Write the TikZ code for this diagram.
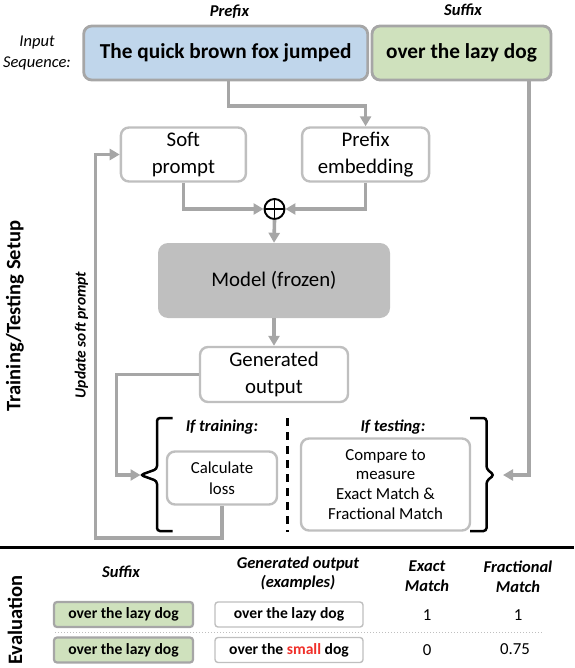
\documentclass[tikz,border=0pt]{standalone}
\usepackage{fontspec}
\setmainfont{Carlito}
\usepackage{tikz}
\usetikzlibrary{arrows.meta,positioning,calc}
\usepackage{xcolor}

\definecolor{linegray}{HTML}{A6A6A6}
\definecolor{boxgray}{HTML}{BFBFBF}
\definecolor{prefixblue}{HTML}{C0D6EB}
\definecolor{suffixgreen}{HTML}{CFE1BD}
\definecolor{modelgray}{HTML}{BFBFBF}
\definecolor{smallred}{HTML}{F0302A}

\begin{document}
\begin{tikzpicture}[
  x=1pt, y=-1pt,
  every node/.style={font=\fontsize{20.8}{27}\selectfont, inner sep=0pt},
  midtext/.style={font=\fontsize{16.8}{20.5}\selectfont},
  headtext/.style={font=\fontsize{16.5}{19}\selectfont\bfseries\itshape, align=center},
  sidetext/.style={font=\fontsize{20.5}{24}\selectfont\bfseries, rotate=90},
  box/.style={
    draw=boxgray,
    line width=2.4pt,
    rounded corners=8pt,
    fill=white,
    align=center
  },
  inbox/.style={
    draw=linegray,
    line width=2.8pt,
    rounded corners=8pt,
    align=center,
    minimum height=54pt,
    font=\fontsize{21.3}{24}\selectfont\bfseries
  },
  evbox/.style={
    rounded corners=3pt,
    minimum height=25pt,
    font=\fontsize{15.6}{18}\selectfont\bfseries
  },
  % gray connectors with filled heads
  arrow/.style={
    -{Triangle[length=10pt,width=11pt]},
    draw=linegray,
    line width=3.6pt
  },
  brace/.style={draw=black, line width=2.5pt, rounded corners=3pt}
]
\useasboundingbox (0,0) rectangle (574,668);

% ------------------------------------------------
% Input sequence
% ------------------------------------------------
\node[font=\fontsize{16.5}{21}\selectfont\itshape, align=center] (inputlbl) at (37,53) {Input\\Sequence:};
\node[headtext] (prefixlbl) at (229.5,12) {Prefix};
\node[headtext] (suffixlbl) at (463,10) {Suffix};

\node[inbox, fill=prefixblue, minimum width=284pt] (prefix) at (225.7,53) {The quick brown fox jumped};
\node[inbox, fill=suffixgreen, minimum width=179pt] (suffix) at (461.5,53) {over the lazy dog};

% ------------------------------------------------
% Training / testing setup
% ------------------------------------------------
\node[sidetext] (setuplbl) at (15,316) {Training/Testing Setup};
\node[font=\fontsize{15.5}{19}\selectfont\bfseries\itshape, rotate=90] (updlbl) at (81.5,335) {Update soft prompt};

\node[box, minimum width=125pt, minimum height=54pt] (soft) at (183.4,154.5) {Soft\\prompt};
\node[box, minimum width=127pt, minimum height=54pt] (prefemb) at (365.6,154.5) {Prefix\\embedding};
\node[circle, draw=black, line width=1.9pt, minimum size=20pt] (plus) at (274.5,209) {};
\draw[black, line width=1.9pt] (plus.north) -- (plus.south) (plus.west) -- (plus.east);

\node[fill=modelgray, rounded corners=10pt, minimum width=232pt, minimum height=75pt] (model) at (274,280.5) {Model (frozen)};
\node[box, minimum width=148pt, minimum height=55pt] (genout) at (274,374.5) {Generated\\output};

\node[headtext] (trainlbl) at (222,427) {If training:};
\node[headtext] (testlbl) at (393,427) {If testing:};
\node[box, midtext, align=center, minimum width=110pt, minimum height=53pt] (loss) at (222,478) {Calculate\\loss};
\node[box, font=\fontsize{16.8}{19.8}\selectfont, minimum width=169pt, minimum height=92pt] (compare) at (385.5,484.5) {Compare to\\measure\\Exact Match \&\\Fractional Match};

% braces and divider
\coordinate (lbrace) at (140.5,475);
\coordinate (rbrace) at (503,475);
\draw[brace] (172.5,418) -| (157,469) -- (lbrace) -- (157,481) |- (172.5,531);
\draw[brace] (470,418) -| (486.5,469) -- (494,475) -- (486.5,481) |- (470,531);
\draw[black, line width=2.6pt, dash pattern=on 8pt off 6pt] (287.7,418) -- (287.7,532);

% routing lanes
\coordinate (toplane)   at (0,106);
\coordinate (rightlane) at (529,0);
\coordinate (leftlane)  at (116.5,0);
\coordinate (backlane)  at (95.5,538);

% ------------------------------------------------
% Arrows
% ------------------------------------------------
\draw[arrow] ([xshift=2.7pt]prefix.south) -- ([xshift=2.7pt]prefix.south |- toplane) -| (prefemb.north);
\draw[arrow] (soft.south) |- (plus.west);
\draw[arrow] (prefemb.south) |- (plus.east);
\draw[arrow] (plus.south) -- (model.north);
\draw[arrow] (model.south) -- (genout.north);
\draw[arrow] (genout.west) -| (leftlane |- lbrace) -- (lbrace);
\draw[arrow] (rightlane |- suffix.south) |- (rbrace);
\draw[arrow] (loss.south) |- (backlane) |- (soft.west);

% ------------------------------------------------
% Evaluation
% ------------------------------------------------
\draw[black, line width=3pt] (0,547) -- (574,547);
\node[sidetext] (evallbl) at (15,620) {Evaluation};

\node[headtext] (evsuffix) at (121,572) {Suffix};
\node[headtext, font=\fontsize{16.5}{19}\selectfont\bfseries\itshape] (evgen) at (298,573.5) {Generated output\\(examples)};
\node[headtext, font=\fontsize{16.5}{20}\selectfont\bfseries\itshape] (evexact) at (427,576) {Exact\\Match};
\node[headtext, font=\fontsize{16.5}{20}\selectfont\bfseries\itshape] (evfrac) at (518,577) {Fractional\\Match};

\node[evbox, fill=suffixgreen, draw=linegray, line width=2.2pt, minimum width=139pt] (sufa) at (123.5,614.5) {over the lazy dog};
\node[evbox, fill=white, draw=boxgray, line width=1.4pt, minimum width=148pt] (gena) at (289,614.5) {over the lazy dog};
\node[midtext] (exa) at (427,615) {1};
\node[midtext] (fra) at (518,615) {1};

\draw[boxgray, line width=1pt, dotted] (55,632) -- (542,632);

\node[evbox, fill=suffixgreen, draw=linegray, line width=2.2pt, minimum width=139pt] (sufb) at (123.5,650) {over the lazy dog};
\node[evbox, fill=white, draw=boxgray, line width=1.4pt, minimum width=148pt] (genb) at (289,650) {over the \textcolor{smallred}{small} dog};
\node[midtext] (exb) at (427,650) {0};
\node[midtext] (frb) at (515,649) {0.75};

\end{tikzpicture}
\end{document}
